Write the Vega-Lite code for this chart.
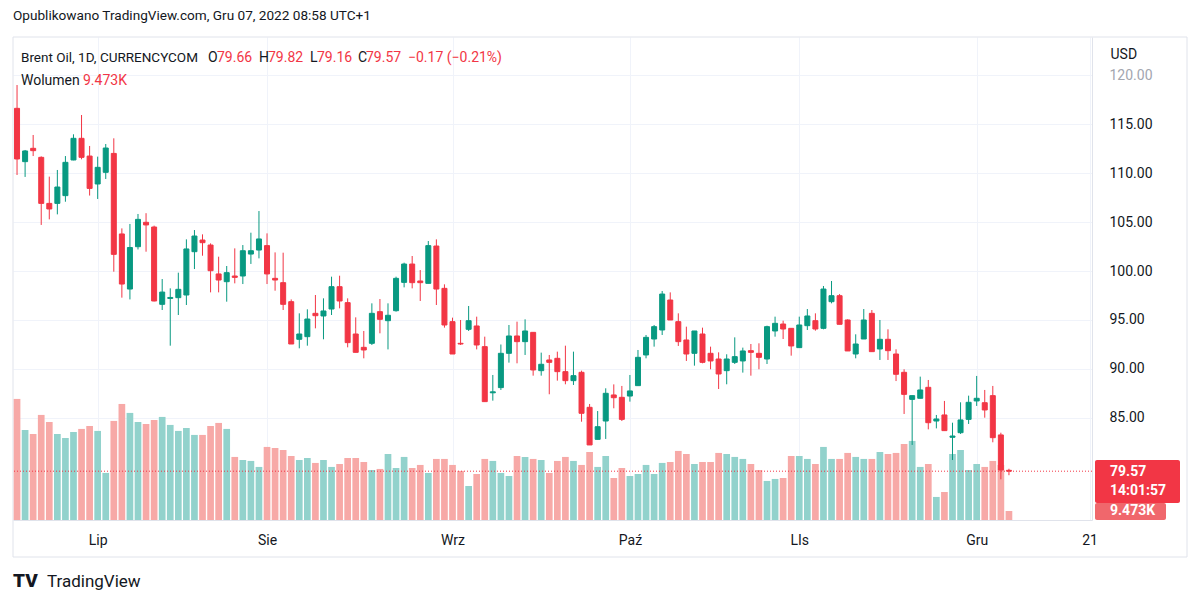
{
  "$schema": "https://vega.github.io/schema/vega-lite/v6.json",
  "width": 1079,
  "height": 483,
  "autosize": "none",
  "padding": {"left": 13, "top": 37, "right": 108, "bottom": 85},
  "background": "white",
  "title": {"text": "Opublikowano TradingView.com, Gru 07, 2022 08:58 UTC+1", "anchor": "start", "frame": "group", "offset": 14, "fontSize": 13.6, "fontWeight": "normal", "font": "Roboto", "color": "#131722"},
  "data": {"values": [
    {"i":0,"o":116.6,"h":118.98,"l":109.8,"c":111.43,"v":127.1},
    {"i":1,"o":111.16,"h":112.35,"l":109.6,"c":112.25,"v":94.5},
    {"i":2,"o":112.52,"h":113.88,"l":111.73,"c":112.28,"v":90.3},
    {"i":3,"o":111.6,"h":111.7,"l":104.7,"c":106.9,"v":110.3},
    {"i":4,"o":106.9,"h":109.63,"l":105.27,"c":106.33,"v":102.9},
    {"i":5,"o":106.9,"h":110.31,"l":105.78,"c":108.57,"v":90.3},
    {"i":6,"o":107.69,"h":111.73,"l":107.07,"c":111.09,"v":86.1},
    {"i":7,"o":111.33,"h":113.95,"l":111.3,"c":113.54,"v":92.4},
    {"i":8,"o":113.54,"h":115.92,"l":111.4,"c":111.6,"v":95.6},
    {"i":9,"o":111.73,"h":112.76,"l":107.7,"c":108.43,"v":98.7},
    {"i":10,"o":108.88,"h":111.67,"l":107.35,"c":110.58,"v":93.5},
    {"i":11,"o":110.07,"h":112.96,"l":109.39,"c":112.55,"v":49.4},
    {"i":12,"o":112.0,"h":113.54,"l":99.93,"c":101.7,"v":104.0},
    {"i":13,"o":103.78,"h":104.35,"l":97.28,"c":98.67,"v":121.8},
    {"i":14,"o":98.16,"h":104.8,"l":97.1,"c":102.4,"v":112.4},
    {"i":15,"o":102.48,"h":105.82,"l":102.2,"c":105.27,"v":102.9},
    {"i":16,"o":104.97,"h":105.9,"l":101.97,"c":104.7,"v":100.8},
    {"i":17,"o":104.49,"h":104.63,"l":96.9,"c":96.94,"v":105.0},
    {"i":18,"o":96.6,"h":99.18,"l":96.02,"c":97.85,"v":108.2},
    {"i":19,"o":97.2,"h":98.23,"l":92.38,"c":97.3,"v":99.8},
    {"i":20,"o":97.28,"h":99.83,"l":95.51,"c":98.13,"v":93.5},
    {"i":21,"o":97.55,"h":103.23,"l":96.53,"c":102.25,"v":96.6},
    {"i":22,"o":101.97,"h":104.18,"l":100.2,"c":103.57,"v":89.3},
    {"i":23,"o":103.16,"h":103.74,"l":101.56,"c":102.89,"v":89.3},
    {"i":24,"o":102.65,"h":102.82,"l":97.82,"c":100.03,"v":98.7},
    {"i":25,"o":99.7,"h":101.46,"l":97.82,"c":99.08,"v":101.9},
    {"i":26,"o":98.91,"h":100.51,"l":96.87,"c":99.83,"v":95.6},
    {"i":27,"o":99.49,"h":102.31,"l":98.74,"c":99.35,"v":66.2},
    {"i":28,"o":99.49,"h":102.65,"l":98.67,"c":102.07,"v":63.0},
    {"i":29,"o":101.73,"h":103.91,"l":100.72,"c":102.07,"v":62.0},
    {"i":30,"o":102.14,"h":106.12,"l":101.29,"c":103.27,"v":55.7},
    {"i":31,"o":102.59,"h":103.84,"l":98.67,"c":99.7,"v":76.7},
    {"i":32,"o":99.25,"h":101.9,"l":97.99,"c":99.08,"v":75.6},
    {"i":33,"o":98.81,"h":101.87,"l":96.02,"c":96.6,"v":73.5},
    {"i":34,"o":96.87,"h":97.1,"l":92.55,"c":92.55,"v":67.2},
    {"i":35,"o":93.03,"h":95.68,"l":92.11,"c":93.57,"v":63.0},
    {"i":36,"o":93.3,"h":96.09,"l":92.38,"c":95.1,"v":65.1},
    {"i":37,"o":95.68,"h":97.55,"l":94.15,"c":95.44,"v":59.9},
    {"i":38,"o":95.41,"h":97.21,"l":93.03,"c":95.92,"v":63.0},
    {"i":39,"o":96.12,"h":99.42,"l":95.51,"c":98.4,"v":55.7},
    {"i":40,"o":98.4,"h":99.52,"l":96.19,"c":96.94,"v":58.8},
    {"i":41,"o":96.77,"h":97.21,"l":92.21,"c":92.69,"v":65.1},
    {"i":42,"o":93.57,"h":95.27,"l":91.7,"c":91.7,"v":65.1},
    {"i":43,"o":92.21,"h":93.88,"l":91.09,"c":91.94,"v":60.9},
    {"i":44,"o":92.62,"h":96.7,"l":92.45,"c":95.68,"v":52.5},
    {"i":45,"o":95.85,"h":97.14,"l":93.64,"c":95.07,"v":53.6},
    {"i":46,"o":94.93,"h":96.7,"l":92.0,"c":95.48,"v":69.3},
    {"i":47,"o":95.95,"h":99.42,"l":95.85,"c":99.25,"v":54.6},
    {"i":48,"o":98.84,"h":100.85,"l":98.33,"c":100.71,"v":66.2},
    {"i":49,"o":100.71,"h":101.53,"l":98.23,"c":98.81,"v":54.6},
    {"i":50,"o":98.98,"h":100.1,"l":96.94,"c":98.81,"v":57.8},
    {"i":51,"o":98.74,"h":103.06,"l":98.74,"c":102.59,"v":49.4},
    {"i":52,"o":102.55,"h":103.23,"l":96.53,"c":98.16,"v":64.1},
    {"i":53,"o":98.23,"h":98.64,"l":94.22,"c":94.49,"v":64.1},
    {"i":54,"o":94.83,"h":95.24,"l":91.53,"c":91.53,"v":57.8},
    {"i":55,"o":92.62,"h":95.0,"l":92.45,"c":92.55,"v":51.5},
    {"i":56,"o":94.05,"h":96.43,"l":93.88,"c":94.93,"v":35.7},
    {"i":57,"o":94.39,"h":95.34,"l":92.0,"c":92.45,"v":48.3},
    {"i":58,"o":92.28,"h":93.3,"l":86.67,"c":86.67,"v":64.1},
    {"i":59,"o":87.57,"h":89.39,"l":86.77,"c":87.67,"v":62.0},
    {"i":60,"o":88.1,"h":92.5,"l":87.86,"c":91.6,"v":49.4},
    {"i":61,"o":91.6,"h":94.49,"l":90.65,"c":93.37,"v":46.2},
    {"i":62,"o":93.37,"h":94.83,"l":90.58,"c":92.79,"v":67.2},
    {"i":63,"o":92.79,"h":95.07,"l":91.43,"c":93.88,"v":66.2},
    {"i":64,"o":93.74,"h":93.74,"l":89.32,"c":89.9,"v":64.1},
    {"i":65,"o":89.83,"h":91.67,"l":89.32,"c":90.48,"v":63.0},
    {"i":66,"o":90.92,"h":91.43,"l":87.42,"c":90.68,"v":49.4},
    {"i":67,"o":91.09,"h":91.77,"l":88.81,"c":89.73,"v":62.0},
    {"i":68,"o":89.73,"h":92.38,"l":88.44,"c":88.81,"v":66.2},
    {"i":69,"o":88.81,"h":91.77,"l":88.37,"c":89.32,"v":62.0},
    {"i":70,"o":89.66,"h":89.83,"l":84.62,"c":85.48,"v":57.8},
    {"i":71,"o":86.09,"h":86.43,"l":82.25,"c":82.25,"v":71.4},
    {"i":72,"o":82.82,"h":85.71,"l":82.82,"c":84.11,"v":55.7},
    {"i":73,"o":84.69,"h":88.03,"l":82.86,"c":87.52,"v":67.2},
    {"i":74,"o":87.35,"h":88.43,"l":85.99,"c":87.07,"v":44.1},
    {"i":75,"o":87.11,"h":88.27,"l":84.69,"c":84.86,"v":54.6},
    {"i":76,"o":87.24,"h":89.39,"l":86.67,"c":87.76,"v":46.2},
    {"i":77,"o":88.3,"h":91.94,"l":88.3,"c":91.19,"v":48.3},
    {"i":78,"o":91.43,"h":93.47,"l":91.09,"c":93.23,"v":57.8},
    {"i":79,"o":93.06,"h":94.49,"l":92.28,"c":94.32,"v":48.3},
    {"i":80,"o":93.98,"h":97.96,"l":93.47,"c":97.65,"v":59.9},
    {"i":81,"o":97.04,"h":97.82,"l":95.0,"c":95.0,"v":60.9},
    {"i":82,"o":94.83,"h":95.68,"l":92.35,"c":92.79,"v":72.5},
    {"i":83,"o":92.96,"h":94.32,"l":90.82,"c":91.53,"v":69.3},
    {"i":84,"o":91.6,"h":93.88,"l":90.34,"c":93.88,"v":58.8},
    {"i":85,"o":93.57,"h":94.22,"l":90.58,"c":90.68,"v":60.9},
    {"i":86,"o":91.6,"h":92.28,"l":89.97,"c":90.82,"v":60.9},
    {"i":87,"o":91.02,"h":91.7,"l":87.96,"c":89.49,"v":70.4},
    {"i":88,"o":89.83,"h":91.5,"l":88.44,"c":91.02,"v":69.3},
    {"i":89,"o":90.68,"h":93.23,"l":90.51,"c":91.26,"v":66.2},
    {"i":90,"o":90.82,"h":92.18,"l":89.63,"c":91.84,"v":64.1},
    {"i":91,"o":91.87,"h":92.55,"l":89.32,"c":91.7,"v":58.8},
    {"i":92,"o":91.6,"h":92.62,"l":89.97,"c":91.19,"v":52.5},
    {"i":93,"o":91.02,"h":94.42,"l":90.51,"c":94.32,"v":41.0},
    {"i":94,"o":93.88,"h":95.34,"l":93.3,"c":94.66,"v":43.1},
    {"i":95,"o":94.59,"h":94.93,"l":93.06,"c":94.08,"v":44.1},
    {"i":96,"o":94.15,"h":94.15,"l":91.36,"c":92.35,"v":67.2},
    {"i":97,"o":92.18,"h":95.34,"l":92.18,"c":94.49,"v":67.2},
    {"i":98,"o":94.42,"h":96.12,"l":93.98,"c":95.41,"v":64.1},
    {"i":99,"o":94.93,"h":95.68,"l":93.91,"c":94.08,"v":58.8},
    {"i":100,"o":94.15,"h":98.47,"l":94.05,"c":98.16,"v":76.7},
    {"i":101,"o":96.87,"h":98.98,"l":96.7,"c":97.48,"v":64.1},
    {"i":102,"o":97.48,"h":97.65,"l":94.56,"c":94.56,"v":64.1},
    {"i":103,"o":95.0,"h":95.07,"l":91.84,"c":91.84,"v":70.4},
    {"i":104,"o":91.53,"h":93.54,"l":91.09,"c":92.55,"v":66.2},
    {"i":105,"o":93.06,"h":96.12,"l":93.06,"c":95.0,"v":64.1},
    {"i":106,"o":95.68,"h":96.02,"l":91.77,"c":91.77,"v":64.1},
    {"i":107,"o":92.04,"h":95.0,"l":90.92,"c":93.03,"v":71.4},
    {"i":108,"o":93.03,"h":94.05,"l":90.92,"c":91.87,"v":69.3},
    {"i":109,"o":91.53,"h":92.01,"l":88.77,"c":89.46,"v":70.4},
    {"i":110,"o":89.66,"h":89.97,"l":85.41,"c":87.41,"v":79.8},
    {"i":111,"o":86.9,"h":87.28,"l":82.25,"c":87.28,"v":83.0},
    {"i":112,"o":87.01,"h":89.22,"l":87.01,"c":87.86,"v":55.7},
    {"i":113,"o":88.13,"h":88.88,"l":83.84,"c":84.52,"v":58.8},
    {"i":114,"o":84.69,"h":85.31,"l":83.94,"c":84.9,"v":24.2},
    {"i":115,"o":85.31,"h":86.74,"l":83.71,"c":83.71,"v":29.4},
    {"i":116,"o":83.03,"h":84.52,"l":80.71,"c":83.16,"v":69.3},
    {"i":117,"o":83.5,"h":86.6,"l":83.37,"c":84.8,"v":73.5},
    {"i":118,"o":84.86,"h":87.28,"l":84.39,"c":86.6,"v":52.5},
    {"i":119,"o":86.74,"h":89.29,"l":86.23,"c":87.01,"v":58.8},
    {"i":120,"o":86.56,"h":87.86,"l":85.03,"c":85.82,"v":55.7},
    {"i":121,"o":87.28,"h":88.27,"l":82.52,"c":82.99,"v":62.0},
    {"i":122,"o":83.27,"h":83.5,"l":78.74,"c":79.69,"v":57.8},
    {"i":123,"o":79.66,"h":79.82,"l":79.16,"c":79.57,"v":9.473}
  ]},
  "layer": [
    {
      "data": {"values": [{}]},
      "mark": {"type": "rect", "x": 0, "x2": 1174, "y": 0, "y2": 520, "fill": "white", "fillOpacity": 0, "stroke": "#e0e3eb", "strokeWidth": 1}
    },
    {
      "mark": {"type": "rule", "strokeWidth": 1},
      "encoding": {
        "x": {"field": "i", "type": "quantitative", "scale": {"domain": [-0.5, 133.3], "nice": false, "zero": false, "padding": 0},
          "axis": {"values": [10, 31, 54, 76, 97, 119, 133], "labelExpr": "datum.value == 10 ? 'Lip' : datum.value == 31 ? 'Sie' : datum.value == 54 ? 'Wrz' : datum.value == 76 ? 'Paź' : datum.value == 97 ? 'LIs' : datum.value == 119 ? 'Gru' : '21'", "title": null, "ticks": false, "labelPadding": 13, "labelFontSize": 14, "labelFont": "Roboto", "labelColor": "#131722", "grid": true, "gridColor": "#f0f3fa", "domainColor": "#e0e3eb", "labelOverlap": false, "labelFlush": false, "labelBaseline": "top"}},
        "y": {"field": "l", "type": "quantitative", "scale": {"domain": [74.59, 123.88], "nice": false, "zero": false, "padding": 0},
          "axis": {"orient": "right", "values": [85, 90, 95, 100, 105, 110, 115, 120], "format": ".2f", "ticks": false, "labelPadding": 17, "labelFontSize": 14, "labelFont": "Roboto", "labelColor": {"condition": {"test": "datum.value == 120", "value": "#a3a6af"}, "value": "#131722"}, "grid": true, "gridColor": "#f0f3fa", "domainColor": "#e0e3eb", "title": "USD", "titleAngle": 0, "titleX": 18, "titleY": 17, "titleAlign": "left", "titleBaseline": "middle", "titleFontSize": 14, "titleFont": "Roboto", "titleFontWeight": "normal", "titleColor": "#131722", "labelOverlap": false, "labelFlush": false}},
        "y2": {"field": "h"},
        "color": {"value": "transparent"}
      }
    },
    {
      "mark": {"type": "bar", "size": 6.7},
      "encoding": {
        "x": {"field": "i", "type": "quantitative"},
        "y": {"field": "v", "type": "quantitative", "scale": {"domain": [0, 507], "nice": false, "padding": 0}, "axis": null},
        "color": {"condition": {"test": "datum.c >= datum.o", "value": "#92d2cc"}, "value": "#f7a9a7"}
      }
    },
    {
      "data": {"values": [{}]},
      "mark": {"type": "rect", "x": 1082, "x2": 1153, "color": "#f0676c", "cornerRadius": 2},
      "encoding": {
        "y": {"datum": 17.85, "type": "quantitative", "scale": {"domain": [0, 507], "nice": false, "padding": 0}, "axis": null},
        "y2": {"datum": 0}
      }
    },
    {
      "data": {"values": [{}]},
      "mark": {"type": "text", "text": "9.473K", "x": 1097, "align": "left", "baseline": "middle", "fontSize": 14, "font": "Roboto", "fontWeight": "bold", "color": "white"},
      "encoding": {
        "y": {"datum": 9.2, "type": "quantitative", "scale": {"domain": [0, 507], "nice": false, "padding": 0}, "axis": null}
      }
    },
    {
      "data": {"values": [{}]},
      "mark": {"type": "rule", "x": 0, "x2": 1174, "y": 483, "y2": 483, "color": "#e0e3eb", "strokeWidth": 1},
      "encoding": {}
    },
    {
      "mark": {"type": "rule", "strokeWidth": 1},
      "encoding": {
        "x": {"field": "i", "type": "quantitative"},
        "y": {"field": "l", "type": "quantitative", "scale": {"domain": [74.59, 123.88], "nice": false, "zero": false, "padding": 0}, "axis": null},
        "y2": {"field": "h"},
        "color": {"condition": {"test": "datum.c >= datum.o", "value": "#089981"}, "value": "#f23645"}
      }
    },
    {
      "mark": {"type": "bar", "size": 5, "strokeWidth": 1},
      "encoding": {
        "x": {"field": "i", "type": "quantitative"},
        "y": {"field": "o", "type": "quantitative", "scale": {"domain": [74.59, 123.88], "nice": false, "zero": false, "padding": 0}, "axis": null},
        "y2": {"field": "c"},
        "fill": {"condition": {"test": "datum.c >= datum.o", "value": "#089981"}, "value": "#f23645"},
        "stroke": {"condition": {"test": "datum.c >= datum.o", "value": "#089981"}, "value": "#f23645"}
      }
    },
    {
      "data": {"values": [{}]},
      "mark": {"type": "rule", "color": "#f23645", "strokeDash": [1, 2], "strokeWidth": 1},
      "encoding": {"y": {"datum": 79.57, "type": "quantitative", "scale": {"domain": [74.59, 123.88], "nice": false, "zero": false}, "axis": null}}
    },
    {
      "data": {"values": [{}]},
      "mark": {"type": "rect", "x": 1082, "x2": 1167, "color": "#f23645", "cornerRadius": 2},
      "encoding": {
        "y": {"datum": 80.71, "type": "quantitative", "scale": {"domain": [74.59, 123.88], "nice": false, "zero": false}, "axis": null},
        "y2": {"datum": 76.33}
      }
    },
    {
      "data": {"values": [{}]},
      "mark": {"type": "text", "text": "79.57", "x": 1097, "align": "left", "baseline": "middle", "fontSize": 14, "font": "Roboto", "fontWeight": "bold", "color": "white"},
      "encoding": {"y": {"datum": 79.5, "type": "quantitative", "scale": {"domain": [74.59, 123.88], "nice": false, "zero": false}, "axis": null}}
    },
    {
      "data": {"values": [{}]},
      "mark": {"type": "text", "text": "14:01:57", "x": 1097, "align": "left", "baseline": "middle", "fontSize": 14, "font": "Roboto", "fontWeight": "bold", "color": "white"},
      "encoding": {"y": {"datum": 77.55, "type": "quantitative", "scale": {"domain": [74.59, 123.88], "nice": false, "zero": false}, "axis": null}}
    },
    {"data": {"values": [{}]}, "mark": {"type": "text", "text": "Brent Oil, 1D, CURRENCYCOM", "x": 8, "y": 21, "align": "left", "baseline": "middle", "fontSize": 13.5, "font": "Roboto", "color": "#131722"}},
    {"data": {"values": [{}]}, "mark": {"type": "text", "text": "O", "x": 195, "y": 21, "align": "left", "baseline": "middle", "fontSize": 14, "font": "Roboto", "color": "#131722"}},
    {"data": {"values": [{}]}, "mark": {"type": "text", "text": "79.66", "x": 204, "y": 21, "align": "left", "baseline": "middle", "fontSize": 14, "font": "Roboto", "color": "#f23645"}},
    {"data": {"values": [{}]}, "mark": {"type": "text", "text": "H", "x": 246, "y": 21, "align": "left", "baseline": "middle", "fontSize": 14, "font": "Roboto", "color": "#131722"}},
    {"data": {"values": [{}]}, "mark": {"type": "text", "text": "79.82", "x": 255, "y": 21, "align": "left", "baseline": "middle", "fontSize": 14, "font": "Roboto", "color": "#f23645"}},
    {"data": {"values": [{}]}, "mark": {"type": "text", "text": "L", "x": 297, "y": 21, "align": "left", "baseline": "middle", "fontSize": 14, "font": "Roboto", "color": "#131722"}},
    {"data": {"values": [{}]}, "mark": {"type": "text", "text": "79.16", "x": 304, "y": 21, "align": "left", "baseline": "middle", "fontSize": 14, "font": "Roboto", "color": "#f23645"}},
    {"data": {"values": [{}]}, "mark": {"type": "text", "text": "C", "x": 345, "y": 21, "align": "left", "baseline": "middle", "fontSize": 14, "font": "Roboto", "color": "#131722"}},
    {"data": {"values": [{}]}, "mark": {"type": "text", "text": "79.57", "x": 353, "y": 21, "align": "left", "baseline": "middle", "fontSize": 14, "font": "Roboto", "color": "#f23645"}},
    {"data": {"values": [{}]}, "mark": {"type": "text", "text": "−0.17 (−0.21%)", "x": 395, "y": 21, "align": "left", "baseline": "middle", "fontSize": 14, "font": "Roboto", "color": "#f23645"}},
    {"data": {"values": [{}]}, "mark": {"type": "text", "text": "Wolumen", "x": 8, "y": 44, "align": "left", "baseline": "middle", "fontSize": 14, "font": "Roboto", "color": "#131722"}},
    {"data": {"values": [{}]}, "mark": {"type": "text", "text": "9.473K", "x": 70, "y": 44, "align": "left", "baseline": "middle", "fontSize": 14, "font": "Roboto", "color": "#f23645"}},
    {"data": {"values": [{}]}, "mark": {"type": "text", "text": "TV", "x": 0, "y": 544, "align": "left", "baseline": "middle", "fontSize": 19, "font": "Roboto", "fontWeight": 900, "color": "#131722"}},
    {"data": {"values": [{}]}, "mark": {"type": "text", "text": "TradingView", "x": 34, "y": 545, "align": "left", "baseline": "middle", "fontSize": 17, "font": "Roboto", "color": "#131722"}}
  ],
  "resolve": {"scale": {"y": "independent"}},
  "config": {
    "view": {"stroke": null},
    "axis": {"gridWidth": 1}
  }
}
